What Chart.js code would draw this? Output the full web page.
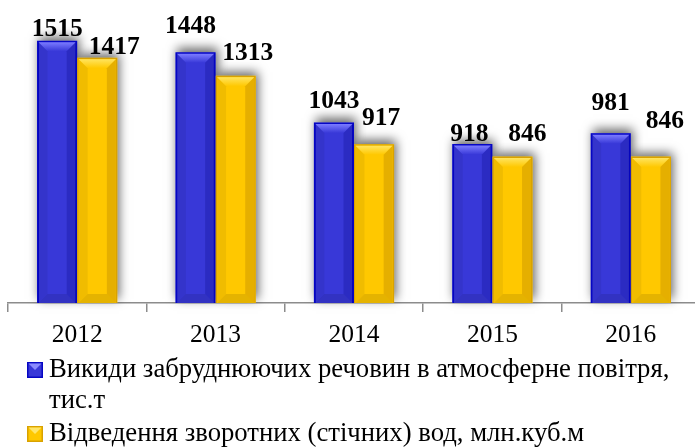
<!DOCTYPE html>
<html><head><meta charset="utf-8">
<script src="https://cdn.jsdelivr.net/npm/chart.js@4/dist/chart.umd.min.js"></script>
<style>
html,body{margin:0;padding:0;overflow:hidden;background:#fff;}
#wrap{width:702px;height:448px;position:relative;}
</style>
</head><body>
<div id="wrap"><canvas id="c"></canvas></div>
<script>
const categories = ['2012', '2013', '2014', '2015', '2016'];
const emissions = [1515, 1448, 1043, 918, 981];
const wastewater = [1417, 1313, 917, 846, 846];
const seriesNames = [
  'Викиди забруднюючих речовин в атмосферне повітря, тис.т',
  'Відведення зворотних (стічних) вод, млн.куб.м'
];

const SERIF = '"Liberation Serif", "Times New Roman", serif';

const looks = [
  {fill: '#3838d8', border: '#0606c4', light: '#7c7cff', dark: 'rgba(0,0,120,0.22)', legendLight: '#8a8aff'},
  {fill: '#ffc800', border: '#d9a200', light: '#ffe45e', dark: 'rgba(150,100,0,0.25)', legendLight: '#ffe66a'}
];

// per-series label nudges (style only): dx px, gap above bar top px
const labelStyle = [
  {dx: [0, -5, 0, -3, 0], gap: [5, 19, 14, 3, 23]},
  {dx: [17, 12, 7, 15, 14], gap: [4, 16, 19, 16, 29]}
];

const shadowPlugin = {
  id: 'barShadow',
  beforeDatasetsDraw(chart) {
    const ctx = chart.ctx;
    chart.data.datasets.forEach((ds, i) => {
      const meta = chart.getDatasetMeta(i);
      meta.data.forEach(bar => {
        const p = bar.getProps(['x', 'y', 'base', 'width'], true);
        ctx.save();
        ctx.shadowColor = 'rgba(0,0,0,0.6)';
        ctx.shadowBlur = 10;
        ctx.shadowOffsetX = 2;
        ctx.shadowOffsetY = -4;
        ctx.fillStyle = looks[i].fill;
        ctx.fillRect(p.x - p.width / 2, p.y, p.width, p.base - p.y);
        ctx.restore();
      });
    });
  },
  afterDatasetsDraw(chart) {
    const ctx = chart.ctx;
    chart.data.datasets.forEach((ds, i) => {
      const meta = chart.getDatasetMeta(i);
      const lk = looks[i];
      meta.data.forEach(bar => {
        const p = bar.getProps(['x', 'y', 'base', 'width'], true);
        const x0 = p.x - p.width / 2 + 1.5, x1 = p.x + p.width / 2 - 1.5;
        const y0 = p.y + 1.5, y1 = p.base;
        const b = 9;
        ctx.save();
        const g = ctx.createLinearGradient(0, y0, 0, y0 + b);
        g.addColorStop(0, lk.light);
        g.addColorStop(1, lk.fill);
        ctx.fillStyle = g;
        ctx.beginPath();
        ctx.moveTo(x0, y0); ctx.lineTo(x1, y0); ctx.lineTo(x1 - b, y0 + b); ctx.lineTo(x0 + b, y0 + b); ctx.closePath();
        ctx.fill();
        ctx.fillStyle = lk.dark;
        ctx.beginPath();
        ctx.moveTo(x1, y0); ctx.lineTo(x1, y1); ctx.lineTo(x1 - b, y1 - b); ctx.lineTo(x1 - b, y0 + b); ctx.closePath();
        ctx.fill();
        ctx.fillStyle = 'rgba(0,0,0,0.06)';
        ctx.beginPath();
        ctx.moveTo(x0, y0); ctx.lineTo(x0, y1); ctx.lineTo(x0 + b, y1 - b); ctx.lineTo(x0 + b, y0 + b); ctx.closePath();
        ctx.fill();
        ctx.fillStyle = 'rgba(0,0,0,0.10)';
        ctx.beginPath();
        ctx.moveTo(x0, y1); ctx.lineTo(x1, y1); ctx.lineTo(x1 - b, y1 - b); ctx.lineTo(x0 + b, y1 - b); ctx.closePath();
        ctx.fill();
        ctx.restore();
      });
    });
    ctx.save();
    ctx.font = 'bold 25.5px ' + SERIF;
    ctx.fillStyle = '#000';
    ctx.textAlign = 'center';
    ctx.textBaseline = 'alphabetic';
    chart.data.datasets.forEach((ds, i) => {
      const meta = chart.getDatasetMeta(i);
      meta.data.forEach((bar, j) => {
        const st = labelStyle[i];
        ctx.fillText(String(ds.data[j]), bar.x + st.dx[j], bar.y - st.gap[j]);
      });
    });
    ctx.restore();
  }
};

const legendPlugin = {
  id: 'wrapLegend',
  afterDraw(chart) {
    const ctx = chart.ctx;
    const left = 27, textX = 49, maxX = 690, lineH = 31, itemGap = 2;
    let baseY = 377;
    ctx.save();
    ctx.font = '26.7px ' + SERIF;
    ctx.textAlign = 'left';
    ctx.textBaseline = 'alphabetic';
    chart.data.datasets.forEach((ds, i) => {
      const lk = looks[i];
      const mx = left, my = baseY - 15, ms = 16;
      ctx.fillStyle = lk.border;
      ctx.fillRect(mx, my, ms, ms);
      ctx.fillStyle = lk.fill;
      ctx.fillRect(mx + 1.5, my + 1.5, ms - 3, ms - 3);
      ctx.fillStyle = lk.legendLight;
      ctx.beginPath();
      ctx.moveTo(mx + 1.5, my + 1.5); ctx.lineTo(mx + ms - 1.5, my + 1.5); ctx.lineTo(mx + ms / 2, my + ms / 2); ctx.closePath();
      ctx.fill();
      ctx.fillStyle = '#000';
      const words = ds.label.split(' ');
      let line = '';
      const lines = [];
      words.forEach(w => {
        const t = line ? line + ' ' + w : w;
        if (ctx.measureText(t).width > maxX - textX && line) { lines.push(line); line = w; }
        else line = t;
      });
      if (line) lines.push(line);
      lines.forEach((ln, k) => ctx.fillText(ln, textX, baseY + k * lineH));
      baseY += lines.length * lineH + itemGap;
    });
    ctx.restore();
  }
};

new Chart(document.getElementById('c'), {
  type: 'bar',
  data: {
    labels: categories,
    datasets: [
      {label: seriesNames[0], data: emissions, backgroundColor: looks[0].fill, borderColor: looks[0].border, borderWidth: 2},
      {label: seriesNames[1], data: wastewater, backgroundColor: looks[1].fill, borderColor: looks[1].border, borderWidth: 1.5}
    ]
  },
  options: {
    responsive: true,
    maintainAspectRatio: false,
    animation: false,
    layout: {padding: {left: 8, right: 2, top: 26, bottom: 100}},
    datasets: {bar: {categoryPercentage: 0.58, barPercentage: 1.0}},
    plugins: {legend: {display: false}, tooltip: {enabled: false}},
    scales: {
      y: {display: false, min: 0, max: 1600},
      x: {
        grid: {drawOnChartArea: false, drawTicks: true, tickLength: 9, color: '#8c8c8c', lineWidth: 1.5, offset: true},
        border: {display: true, color: '#8c8c8c', width: 1.5},
        ticks: {color: '#000', font: {family: SERIF, size: 25.5}, padding: 8},
        afterFit(scale) { scale.height = 45; }
      }
    }
  },
  plugins: [shadowPlugin, legendPlugin]
});
</script>
</body></html>
